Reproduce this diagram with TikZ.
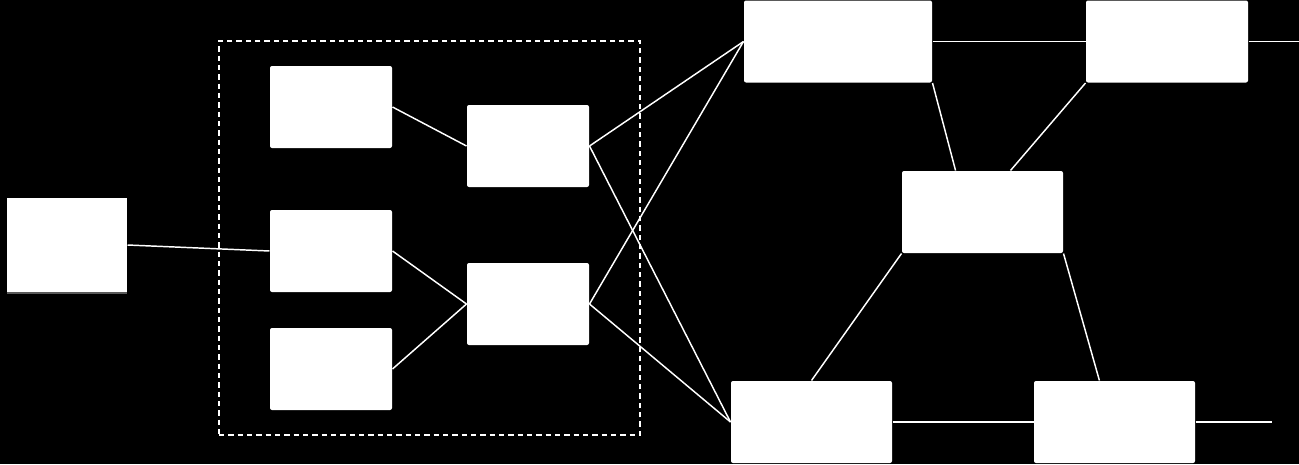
\documentclass[tikz,border=0pt]{standalone}
\usetikzlibrary{shadows}
\tikzset{every picture/.style={line width=0.75pt}}
\tikzset{
  blk/.style={fill=white, rounded corners=1.5pt, inner sep=0pt, minimum width=91.5pt, minimum height=61.5pt},
  wire/.style={draw=white, line width=1.1pt},
  grpbox/.style={draw=white, line width=1.1pt, dash pattern=on 4pt off 3pt, inner sep=0pt, minimum width=315.75pt, minimum height=295.5pt},
}
\begin{document}
\begin{tikzpicture}[x=0.75pt,y=0.75pt,yscale=-1,xscale=1]
%background, 1299 x 464
\useasboundingbox (0,0) rectangle (1299,464);
\fill [black] (0,0) rectangle (1299,464);

%Shape: Dashed group [id:grp]
\node [grpbox] (grp) at (429.5,238) {};

%Shape: Rectangle [id:src]
\node [blk, rounded corners=0pt, minimum width=90pt, minimum height=70.5pt, drop shadow={shadow xshift=0pt, shadow yshift=-1.5pt, fill=gray, opacity=0.7}] (src) at (67,245) {};
%Shape: Rectangle [id:a1]
\node [blk] (a1) at (331,107) {};
%Shape: Rectangle [id:a2]
\node [blk] (a2) at (331,251) {};
%Shape: Rectangle [id:a3]
\node [blk] (a3) at (331,369) {};
%Shape: Rectangle [id:b1]
\node [blk] (b1) at (528,146) {};
%Shape: Rectangle [id:b2]
\node [blk] (b2) at (528,304) {};
%Shape: Rectangle [id:r1]
\node [blk, minimum width=141pt] (r1) at (838,41.5) {};
%Shape: Rectangle [id:r2]
\node [blk, minimum width=121.5pt] (r2) at (1167,41.5) {};
%Shape: Rectangle [id:mid]
\node [blk, minimum width=120.75pt] (mid) at (982.5,212) {};
%Shape: Rectangle [id:d1]
\node [blk, minimum width=120.75pt] (d1) at (811.5,422) {};
%Shape: Rectangle [id:d2]
\node [blk, minimum width=120.75pt] (d2) at (1114.5,422) {};

%free ends
\coordinate (r2end) at (1299,41.5);
\coordinate (d2end) at (1272,422);

%Straight Lines
\draw [wire] (src.east) -- (a2.west);
\draw [wire] (a1.east) -- (b1.west);
\draw [wire] (a2.east) -- (b2.west);
\draw [wire] (a3.east) -- (b2.west);
\draw [wire] (b1.east) -- (r1.west);
\draw [wire] (b1.east) -- (d1.west);
\draw [wire] (b2.east) -- (r1.west);
\draw [wire] (b2.east) -- (d1.west);
\draw [wire] (r1.east) -- (r2.west);
\draw [wire] (r2.east) -- (r2end);
\draw [wire] (r1.south east) -- (mid.123);
\draw [wire] (r2.south west) -- (mid.56);
\draw [wire] (mid.south west) -- (d1.north);
\draw [wire] (mid.south east) -- (d2.110);
\draw [wire] (d1.east) -- (d2.west);
\draw [wire] (d2.east) -- (d2end);

\end{tikzpicture}
\end{document}
